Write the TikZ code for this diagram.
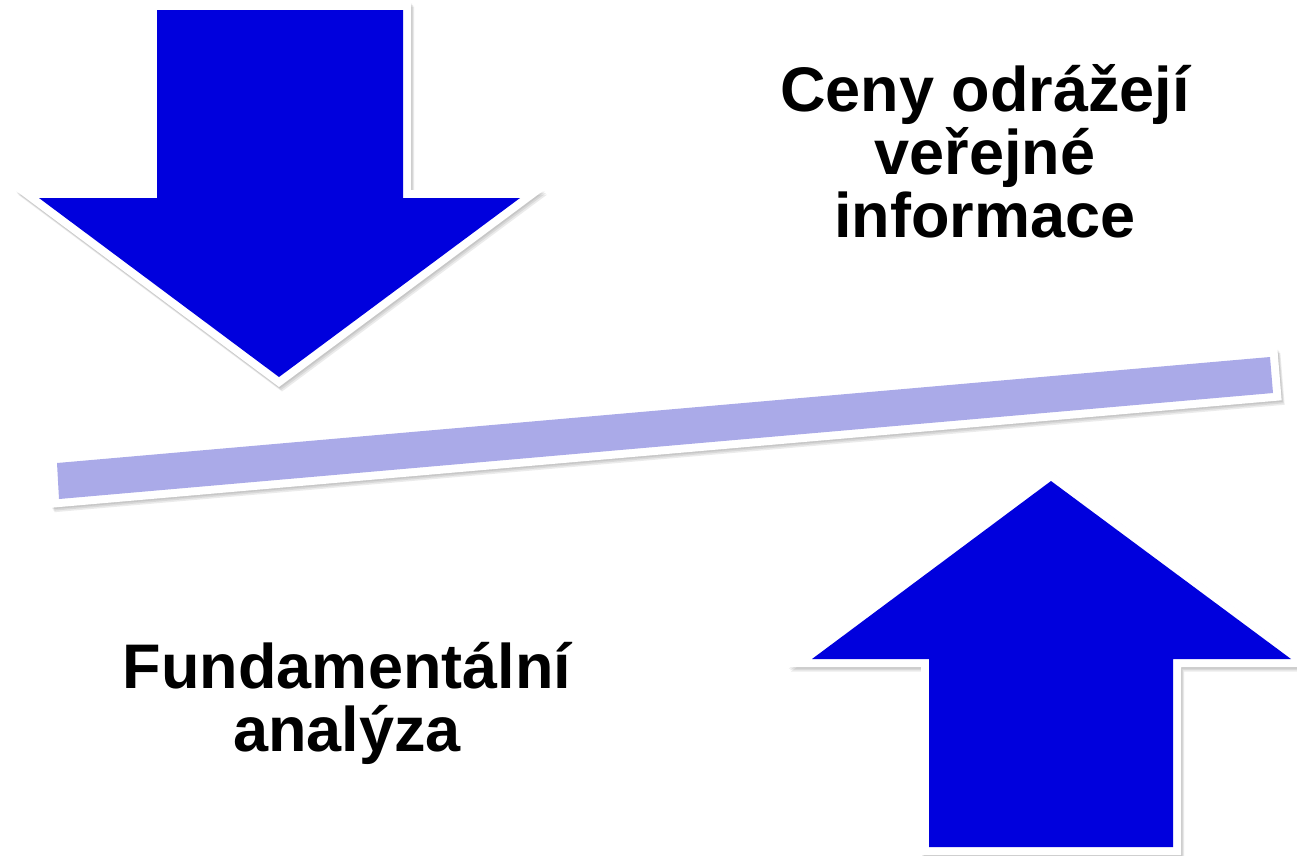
\documentclass[tikz,border=0pt]{standalone}
\usepackage{fontspec}
\setmainfont{Liberation Sans}
\definecolor{arrowblue}{RGB}{0,0,221}
\definecolor{barlilac}{RGB}{170,170,232}
\tikzset{
  shade shape/.style={fill=black, draw=black, line width=16pt, line join=miter, opacity=0.08, shift={#1}},
  rim shape/.style={fill=white, draw=white, line width=16pt, line join=miter},
  blue shape/.style={fill=arrowblue},
  bar shape/.style={fill=barlilac},
  label text/.style={font=\bfseries\fontsize{63}{63}\selectfont, inner sep=0pt, anchor=base, text=black}
}
\newcommand{\softshade}[1]{%
  \path[shade shape={(1,1.5)}] #1;
  \path[shade shape={(2,3)}] #1;
  \path[shade shape={(3,4.5)}] #1;}
\begin{document}
\begin{tikzpicture}[x=1pt,y=-1pt]
\useasboundingbox (0,0) rectangle (1297,855);
\fill[white] (0,0) rectangle (1297,855);
% down arrow
\def\downarrowshape{(157,10) -- (403,10) -- (403,198) -- (520,198) -- (279,377) -- (39,198) -- (157,198) -- cycle}
\softshade{\downarrowshape}
\path[rim shape] \downarrowshape;
\path[blue shape] \downarrowshape;
% up arrow
\def\uparrowshape{(1051,481) -- (1291,659) -- (1173,659) -- (1173,847) -- (929,847) -- (929,659) -- (812,659) -- cycle}
\softshade{\uparrowshape}
\path[rim shape] \uparrowshape;
\path[blue shape] \uparrowshape;
% bar
\def\barshape{(57,463) -- (1270,357) -- (1273,393) -- (59,499) -- cycle}
\softshade{\barshape}
\path[rim shape] \barshape;
\path[bar shape] \barshape;
% texts
\node[label text] (t1) at (985,111) {Ceny odrážejí};
\node[label text] (t2) at (985,174) {veřejné};
\node[label text] (t3) at (985,237) {informace};
\node[label text] (b1) at (347,688) {Fundamentální};
\node[label text] (b2) at (347,751) {analýza};
\end{tikzpicture}
\end{document}
